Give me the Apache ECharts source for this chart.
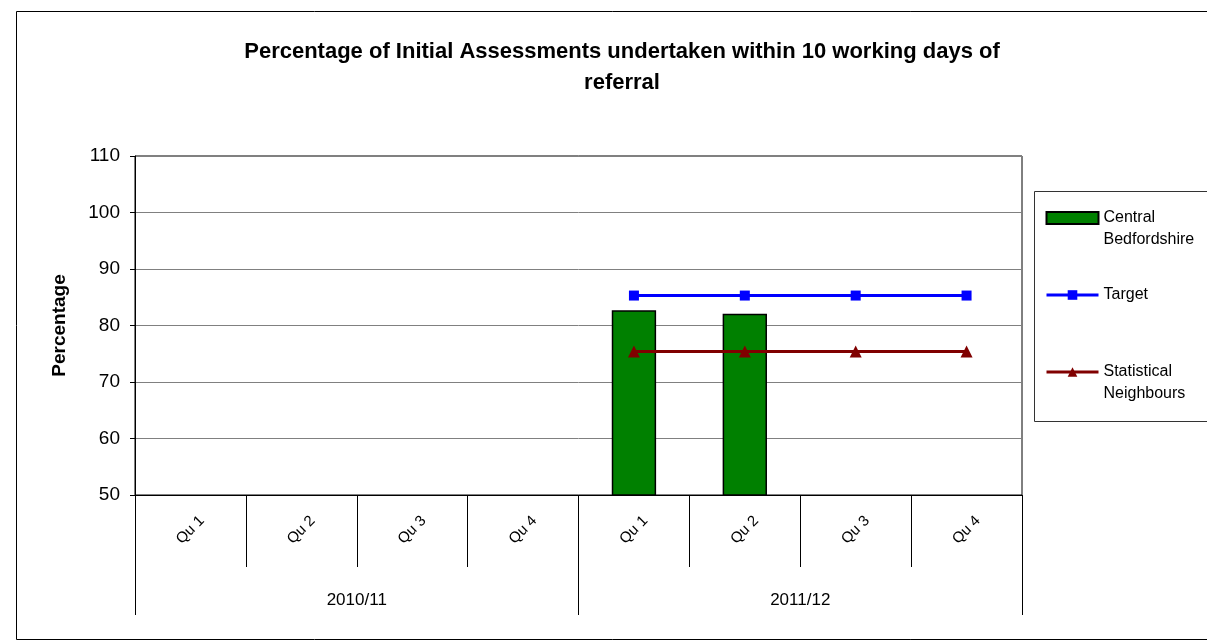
<!DOCTYPE html>
<html>
<head>
<meta charset="utf-8">
<script src="https://cdn.jsdelivr.net/npm/echarts@6/dist/echarts.min.js"></script>
<style>
html,body{margin:0;padding:0;background:#fff;}
#chart{width:1207px;height:641px;}
</style>
</head>
<body>
<div id="chart"></div>
<script>
var quarters = ['Qu 1','Qu 2','Qu 3','Qu 4','Qu 1','Qu 2','Qu 3','Qu 4'];
var years = ['2010/11','2011/12'];
var centralBeds = [null,null,null,null,82.7,82.1,null,null];
var target = [null,null,null,null,85.3,85.3,85.3,85.3];
var statNeighbours = [null,null,null,null,75.4,75.4,75.4,75.4];
var yTicks = {min:50, max:110, interval:10};

var chart = echarts.init(document.getElementById('chart'));
var font = 'Liberation Sans, Arial, sans-serif';
chart.setOption({
  animation:false,
  textStyle:{fontFamily:font},
  title:{
    text:'Percentage of Initial Assessments undertaken within 10 working days of\nreferral',
    left:617, top:31, textAlign:'center',
    textStyle:{fontSize:22, fontWeight:'bold', color:'#000', lineHeight:31, fontFamily:font}
  },
  graphic:[
    {type:'rect', shape:{x:16.5,y:11.5,width:1200,height:628}, style:{fill:null, stroke:'#000', lineWidth:1}, silent:true},
    {type:'rect', shape:{x:1034.5,y:191.5,width:200,height:230}, style:{fill:null, stroke:'#333', lineWidth:1}, silent:true}
  ],
  legend:{
    orient:'vertical', left:1040, top:180, itemGap:33,
    itemWidth:52, itemHeight:12,
    textStyle:{fontSize:16, color:'#000', lineHeight:22, fontFamily:font},
    formatter:function(n){ return n.indexOf(' ')>=0 ? '\n'+n.replace(' ','\n') : n; },
    data:[
      {name:'Central Bedfordshire', icon:'rect'},
      {name:'Target', lineStyle:{width:3}},
      {name:'Statistical Neighbours', lineStyle:{width:3}}
    ]
  },
  grid:{left:135, top:156, right:185, bottom:146, show:true, borderColor:'#000', borderWidth:1},
  xAxis:[
    {type:'category', data:quarters, position:'bottom',
     axisLine:{lineStyle:{color:'#000', width:1}},
     axisTick:{show:true, length:72, interval:0, lineStyle:{color:'#000'}},
     axisLabel:{interval:0, rotate:45, align:'center', verticalAlign:'middle', margin:35, fontSize:15, color:'#000'},
     splitLine:{show:false}},
    {type:'category', data:years, position:'bottom', offset:72,
     axisLine:{show:false},
     axisTick:{show:true, length:48, interval:0, lineStyle:{color:'#000'}},
     axisLabel:{interval:0, margin:25, fontSize:17, color:'#000'},
     splitLine:{show:false}}
  ],
  yAxis:{
    type:'value', min:yTicks.min, max:yTicks.max, interval:yTicks.interval,
    name:'Percentage', nameLocation:'middle', nameGap:66,
    nameTextStyle:{fontSize:19, fontWeight:'bold', color:'#000'},
    axisLine:{show:true, lineStyle:{color:'#000'}},
    axisTick:{show:true, length:5, lineStyle:{color:'#000'}},
    axisLabel:{fontSize:19, color:'#000', margin:15},
    splitLine:{lineStyle:{color:'#808080', width:1}}
  },
  series:[
    {name:'Central Bedfordshire', type:'bar', data:centralBeds, barWidth:'40%',
     itemStyle:{color:'#008000', borderColor:'#000', borderWidth:1.5}},
    {name:'Target', type:'line', data:target, symbol:'rect', symbolSize:10,
     lineStyle:{color:'#0000FF', width:3}, itemStyle:{color:'#0000FF'}},
    {name:'Statistical Neighbours', type:'line', data:statNeighbours, symbol:'triangle', symbolSize:12,
     lineStyle:{color:'#800000', width:3}, itemStyle:{color:'#800000'}}
  ]
});
</script>
</body>
</html>
